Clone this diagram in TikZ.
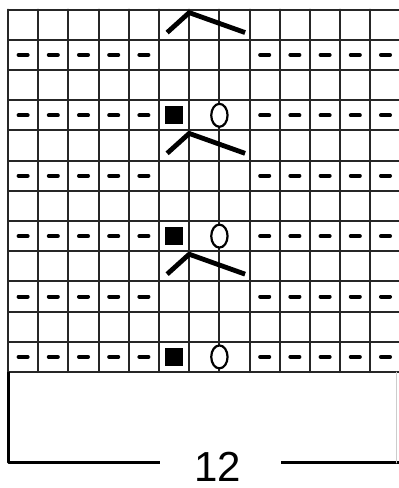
\documentclass[tikz,border=0pt]{standalone}
\usepackage{fontspec}
\setmainfont{Liberation Sans}
\begin{document}
\begin{tikzpicture}[x=30.2pt, y=30.2pt, line join=round, line cap=round,
		gridline/.style={line width=2pt, black!85},
		purl/.style={line width=4pt, line cap=round},
		dec/.style={line width=4.8pt, line cap=butt, line join=miter},
		yo/.style={line width=2.2pt, fill=white},
		bracket/.style={line width=3pt, line cap=butt}]
	\useasboundingbox (-0.265,-3.841) rectangle (12.947,12.318);
	% Lưới ô
	\foreach \c in {0,...,13}
		\draw[gridline] (\c,0) -- (\c,12);
	\foreach \r in {0,...,12}
		\draw[gridline] (0,\r) -- (13,\r);
	% Mũi lộn
	\foreach \r in {0,2,...,10}
		\foreach \c in {0,1,2,3,4,8,9,10,11,12}
			\draw[purl] (\c+0.35,\r+0.5) -- (\c+0.65,\r+0.5);
	% Ô đen và mũi vòng
	\foreach \r in {0,4,8} {
		\fill (5.2,\r+0.2) rectangle (5.8,\r+0.8);
		\filldraw[yo] (7,\r+0.5) ellipse [x radius=0.27, y radius=0.38];
	}
	% Mũi giảm
	\foreach \t in {4,8,12}
		\draw[dec] (5.27,\t-0.76) -- (6,\t-0.1) -- (7.85,\t-0.76);
	% Khung đếm mũi
	\coordinate (BL) at (0,-3.01);
	\coordinate (L) at (5.03,-3.01);
	\coordinate (R) at (9.04,-3.01);
	\coordinate (BR) at (12.95,-3.01);
	\node[inner sep=0pt, font=\fontsize{42}{48}\selectfont] (N) at (6.95,-3.146) {12};
	\draw[bracket] (0,0) -- (BL) -- (L);
	\draw[bracket] (R) -- (BR);
	\draw[gray!40, line width=1pt] (12.88,0) -- (12.88,-3.01);
\end{tikzpicture}
\end{document}
